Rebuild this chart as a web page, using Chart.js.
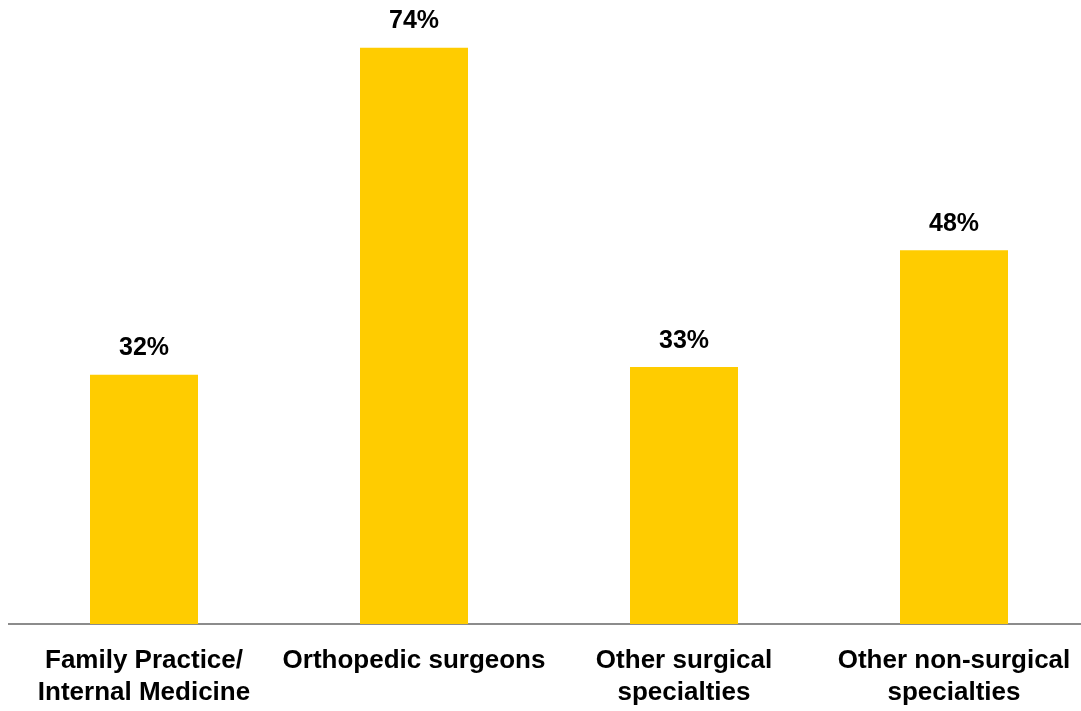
<!DOCTYPE html>
<html>
<head>
<meta charset="utf-8">
<script src="https://cdn.jsdelivr.net/npm/chart.js@4/dist/chart.umd.min.js"></script>
<style>
  html, body { margin: 0; padding: 0; background: #fff; overflow: hidden; }
  #wrap { position: absolute; left: 0; top: 0; width: 1090px; height: 711px; }
</style>
</head>
<body>
<div id="wrap"><canvas id="specialtyChart"></canvas></div>
<script>
const categories = [
  ['Family Practice/', 'Internal Medicine'],
  'Orthopedic surgeons',
  ['Other surgical', 'specialties'],
  ['Other non-surgical', 'specialties']
];
const shares = [32, 74, 33, 48];

const barColor = '#FFCC00';
const fontFamily = '"Liberation Sans", Arial, sans-serif';

// draws the "xx%" text above each bar
const valueLabels = {
  id: 'valueLabels',
  afterDatasetsDraw(chart) {
    const ctx = chart.ctx;
    const meta = chart.getDatasetMeta(0);
    ctx.save();
    ctx.font = 'bold 25px ' + fontFamily;
    ctx.fillStyle = '#000';
    ctx.textAlign = 'center';
    ctx.textBaseline = 'alphabetic';
    meta.data.forEach((bar, i) => {
      ctx.fillText(shares[i] + '%', bar.x, bar.y - 19.5);
    });
    ctx.restore();
  }
};

new Chart(document.getElementById('specialtyChart'), {
  type: 'bar',
  data: {
    labels: categories,
    datasets: [{
      data: shares,
      backgroundColor: barColor,
      borderWidth: 0,
      categoryPercentage: 1,
      barPercentage: 0.4
    }]
  },
  options: {
    responsive: true,
    maintainAspectRatio: false,
    animation: false,
    layout: { padding: { left: 9, right: 1, top: 1, bottom: 0 } },
    plugins: {
      legend: { display: false },
      tooltip: { enabled: false }
    },
    scales: {
      x: {
        grid: { display: false, drawTicks: false },
        border: { display: true, color: '#8c8c8c', width: 2 },
        ticks: {
          color: '#000',
          padding: 21,
          maxRotation: 0,
          autoSkip: false,
          font: { family: fontFamily, size: 26, weight: 'bold', lineHeight: '32px' }
        },
        afterFit(scale) {
          scale.height = 87;
          scale.paddingLeft = 0;
          scale.paddingRight = 0;
        }
      },
      y: {
        display: false,
        min: 0,
        max: 80
      }
    }
  },
  plugins: [valueLabels]
});
</script>
</body>
</html>
